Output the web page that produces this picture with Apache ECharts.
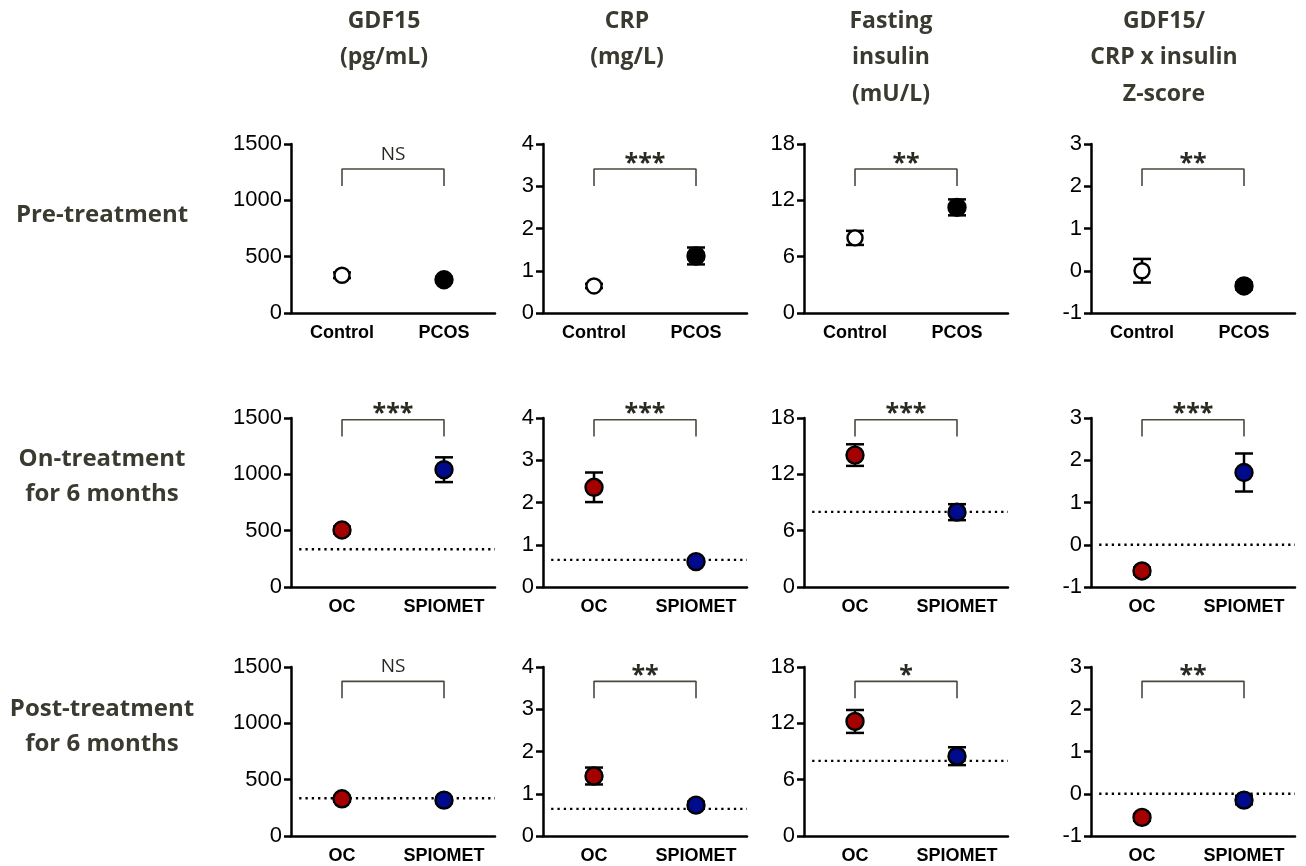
<!DOCTYPE html>
<html><head><meta charset="utf-8">
<script src="https://cdn.jsdelivr.net/npm/echarts@6/dist/echarts.min.js"></script>
<style>html,body{margin:0;padding:0;background:#fff}#c{width:1306px;height:866px}</style>
</head><body><div id="c"></div>
<script>
// ---------- data ----------
const columnTitles = ['GDF15\n(pg/mL)', 'CRP\n(mg/L)', 'Fasting\ninsulin\n(mU/L)', 'GDF15/\nCRP x insulin\nZ-score'];
const rowTitles = ['Pre-treatment', 'On-treatment\nfor 6 months', 'Post-treatment\nfor 6 months'];
const preCategories = ['Control', 'PCOS'];
const treatCategories = ['OC', 'SPIOMET'];
const yMin = [0, 0, 0, -1];
const yMax = [1500, 4, 18, 3];
const yInterval = [500, 1, 6, 1];
// control-group mean (dotted reference line in treatment rows)
const controlMean = [335, 0.64, 8.0, 0];
// per column: [group0, group1]
const preMean = [[335, 295], [0.64, 1.35], [8.0, 11.25], [0.0, -0.36]];
const preErr  = [[25, 25], [0.05, 0.2], [0.75, 0.85], [0.28, 0.08]];
const onMean  = [[506, 1041], [2.36, 0.60], [14.05, 7.97], [-0.62, 1.71]];
const onErr   = [[30, 110], [0.35, 0.05], [1.15, 0.85], [0.08, 0.45]];
const postMean = [[330, 318], [1.42, 0.73], [12.2, 8.5], [-0.56, -0.15]];
const postErr  = [[25, 25], [0.2, 0.08], [1.22, 0.95], [0.08, 0.1]];
const significance = [['NS', '***', '**', '**'], ['***', '***', '***', '***'], ['NS', '**', '*', '**']];

// ---------- styling / layout ----------
const RED = '#a50000', BLUE = '#000a8c', TXT = '#3a3a30', SIG = '#2a2a22';
const rows = [
  { cats: preCategories, mean: preMean, err: preErr, fills: ['#ffffff', '#000000'], sizes: [15, 17], ref: false },
  { cats: treatCategories, mean: onMean, err: onErr, fills: [RED, BLUE], sizes: [17, 17], ref: true },
  { cats: treatCategories, mean: postMean, err: postErr, fills: [RED, BLUE], sizes: [17, 17], ref: true }
];
const gridLeft = [291, 543, 804, 1091], gridTop = [144, 418, 667], gridW = 204, gridH = 169;
const bracketTopFrac = [0.852, 0.99, 0.915], bracketDropFrac = 0.1;

const option = { animation: false, grid: [], xAxis: [], yAxis: [], series: [], graphic: [] };

for (let r = 0; r < 3; r++) {
  for (let c = 0; c < 4; c++) {
    const idx = r * 4 + c, row = rows[r];
    const span = yMax[c] - yMin[c];
    option.grid.push({ left: gridLeft[c], top: gridTop[r], width: gridW, height: gridH });
    option.xAxis.push({
      type: 'category', gridIndex: idx, data: row.cats, boundaryGap: true,
      axisLine: { onZero: false, lineStyle: { color: '#000', width: 2.5 } },
      axisTick: { alignWithLabel: true, length: 7, lineStyle: { color: '#000', width: 2.5 } },
      axisLabel: { color: '#000', fontFamily: 'Liberation Sans', fontWeight: 'bold', fontSize: 18, margin: 11, interval: 0 },
      splitLine: { show: false }
    });
    option.xAxis.push({ type: 'value', gridIndex: idx, min: -0.5, max: 1.5, show: false });
    option.yAxis.push({
      type: 'value', gridIndex: idx, min: yMin[c], max: yMax[c], interval: yInterval[c],
      axisLine: { show: true, onZero: false, lineStyle: { color: '#000', width: 2.5 } },
      axisTick: { show: true, length: 7, lineStyle: { color: '#000', width: 2.5 } },
      axisLabel: { color: '#000', fontFamily: 'Liberation Sans', fontSize: 22, margin: 9, formatter: v => String(v) },
      splitLine: { show: false }
    });
    // error bars
    option.series.push({
      type: 'custom', xAxisIndex: 2 * idx, yAxisIndex: idx, z: 3, silent: true,
      data: row.cats.map((_, i) => [i, row.mean[c][i], row.err[c][i]]),
      encode: { x: 0, y: 1 },
      renderItem: (params, api) => {
        const x = api.value(0), m = api.value(1), e = api.value(2);
        const t = api.coord([x, m + e]), b = api.coord([x, m - e]), hw = 9;
        const st = { stroke: '#000', lineWidth: 2.5 };
        return { type: 'group', children: [
          { type: 'line', shape: { x1: t[0], y1: t[1], x2: b[0], y2: b[1] }, style: st },
          { type: 'line', shape: { x1: t[0] - hw, y1: t[1], x2: t[0] + hw, y2: t[1] }, style: st },
          { type: 'line', shape: { x1: b[0] - hw, y1: b[1], x2: b[0] + hw, y2: b[1] }, style: st }
        ] };
      }
    });
    // dotted control reference
    if (row.ref) {
      option.series.push({
        type: 'line', xAxisIndex: 2 * idx + 1, yAxisIndex: idx, z: 2, silent: true, symbol: 'none',
        data: [[-0.42, controlMean[c]], [1.5, controlMean[c]]],
        lineStyle: { color: '#000', width: 2.3, type: [2.3, 4] }
      });
    }
    // points
    option.series.push({
      type: 'scatter', xAxisIndex: 2 * idx, yAxisIndex: idx, z: 4, silent: true, symbol: 'circle',
      itemStyle: { opacity: 1 },
      data: row.cats.map((_, i) => ({
        value: [i, row.mean[c][i]], symbolSize: row.sizes[i],
        itemStyle: { color: row.fills[i], borderColor: '#000', borderWidth: 2.4, opacity: 1 }
      }))
    });
    // significance bracket
    const bt = yMin[c] + bracketTopFrac[r] * span, bb = bt - bracketDropFrac * span;
    option.series.push({
      type: 'line', xAxisIndex: 2 * idx + 1, yAxisIndex: idx, z: 2, silent: true, symbol: 'none',
      data: [[0, bb], [0, bt], [1, bt], [1, bb]],
      lineStyle: { color: '#4a4a40', width: 1.6 }
    });
    const sig = significance[r][c], isStar = sig.indexOf('*') >= 0;
    option.series.push({
      type: 'scatter', xAxisIndex: 2 * idx + 1, yAxisIndex: idx, z: 5, silent: true, symbolSize: 0,
      itemStyle: { opacity: 1 },
      data: [[0.5, bt]],
      label: {
        show: true, position: 'top', distance: isStar ? -7 : 5, formatter: sig, opacity: 1,
        color: SIG, fontFamily: 'Open Sans', fontWeight: isStar ? 'bold' : 'normal', fontSize: isStar ? 25 : 19
      }
    });
  }
}

// column and row titles
const colCenters = [384, 627, 891, 1164];
columnTitles.forEach((t, i) => {
  option.graphic.push({ type: 'text', x: colCenters[i], y: 3, silent: true,
    style: { text: t, fill: TXT, font: 'bold 23px "Open Sans"', textAlign: 'center', textVerticalAlign: 'top', align: 'center', verticalAlign: 'top', lineHeight: 36.5 } });
});
const rowCenters = [215, 477, 727];
rowTitles.forEach((t, i) => {
  option.graphic.push({ type: 'text', x: 102, y: rowCenters[i], silent: true,
    style: { text: t, fill: TXT, font: 'bold 24px "Open Sans"', textAlign: 'center', textVerticalAlign: 'middle', align: 'center', verticalAlign: 'middle', lineHeight: 35 } });
});

const chart = echarts.init(document.getElementById('c'), null, { renderer: 'canvas' });
chart.setOption(option);
</script>
</body></html>
